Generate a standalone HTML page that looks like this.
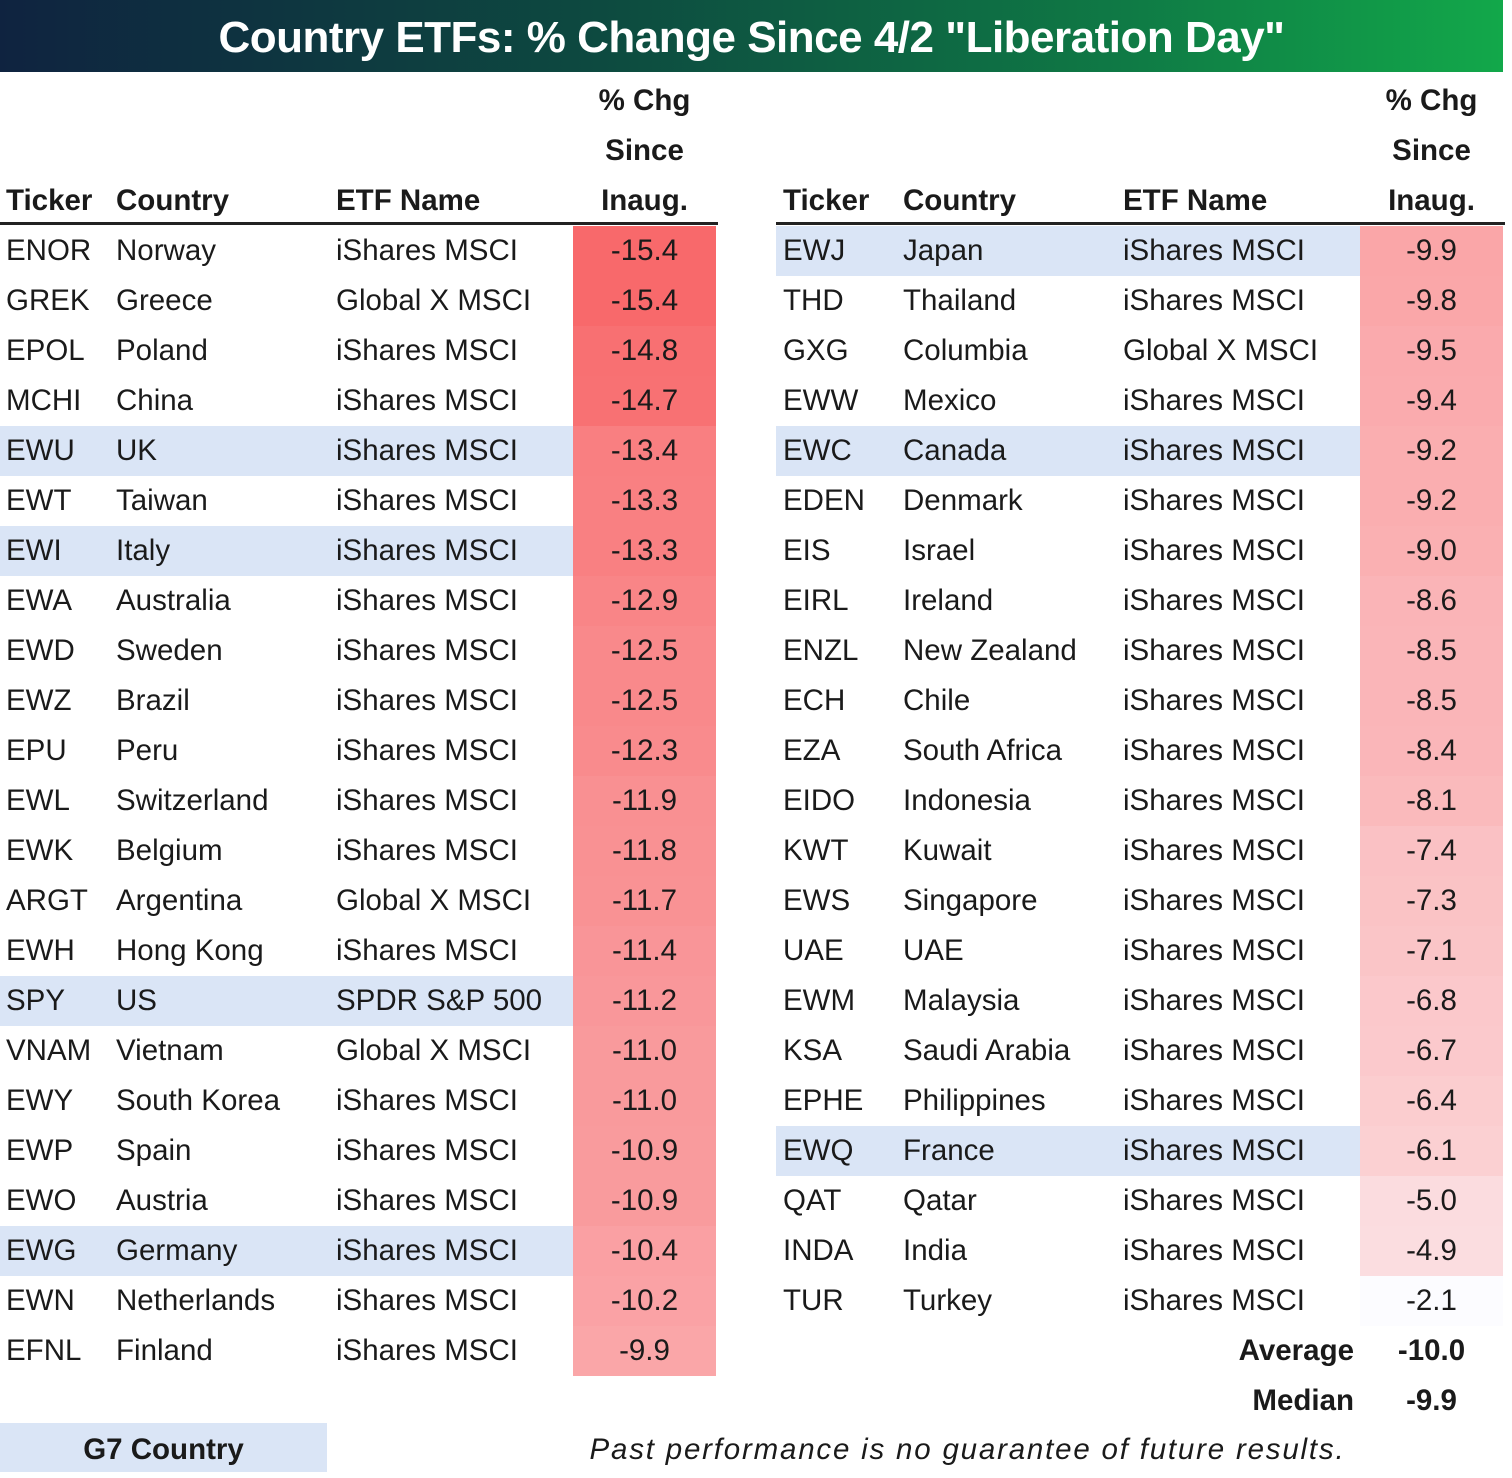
<!DOCTYPE html>
<html><head><meta charset="utf-8"><style>
*{margin:0;padding:0;box-sizing:border-box}
body{width:1512px;height:1478px;background:#fff;position:relative;overflow:hidden;font-family:"Liberation Sans",sans-serif;color:#1a1a1a;font-size:29.5px}
.t{position:absolute;left:0;top:0;width:1503px;height:72px;background:linear-gradient(90deg,#0f2340 0%,#0d4a40 40%,#0f7a45 75%,#12a84a 100%);color:#fff;font-weight:bold;font-size:44px;text-align:center;line-height:76px;letter-spacing:-0.5px}
.r{position:absolute;height:50px;line-height:50px;white-space:nowrap}
.a{position:absolute;top:0;height:50px}
.b{font-weight:bold}
.v{position:absolute;top:0;height:50px;text-align:center}
.hl{position:absolute;height:50px;background:#dae5f6}
.ln{position:absolute;top:222px;height:3px;background:#222}
</style></head><body>
<div class="t">Country ETFs: % Change Since 4/2 "Liberation Day"</div>

<div class="r b" style="top:76px;left:573px;width:143px;text-align:center">% Chg</div>
<div class="r b" style="top:126px;left:573px;width:143px;text-align:center">Since</div>
<div class="r b" style="top:176px;left:573px;width:143px;text-align:center">Inaug.</div>
<div class="r b" style="top:176px;left:6px">Ticker</div>
<div class="r b" style="top:176px;left:116px">Country</div>
<div class="r b" style="top:176px;left:336px">ETF Name</div>
<div class="ln" style="left:0;width:718px"></div>

<div class="r b" style="top:76px;left:1360px;width:143px;text-align:center">% Chg</div>
<div class="r b" style="top:126px;left:1360px;width:143px;text-align:center">Since</div>
<div class="r b" style="top:176px;left:1360px;width:143px;text-align:center">Inaug.</div>
<div class="r b" style="top:176px;left:783px">Ticker</div>
<div class="r b" style="top:176px;left:903px">Country</div>
<div class="r b" style="top:176px;left:1123px">ETF Name</div>
<div class="ln" style="left:776px;width:729px"></div>

<div class="hl" style="left:0;width:573px;top:426px"></div>
<div class="hl" style="left:0;width:573px;top:526px"></div>
<div class="hl" style="left:0;width:573px;top:976px"></div>
<div class="hl" style="left:0;width:573px;top:1226px"></div>
<div class="hl" style="left:776px;width:584px;top:226px"></div>
<div class="hl" style="left:776px;width:584px;top:426px"></div>
<div class="hl" style="left:776px;width:584px;top:1126px"></div>

<div style="position:absolute;left:573px;width:143px;top:226px">
<div style="height:50px;background:rgb(248,105,107)"></div>
<div style="height:50px;background:rgb(248,105,107)"></div>
<div style="height:50px;background:rgb(248,112,114)"></div>
<div style="height:50px;background:rgb(248,113,115)"></div>
<div style="height:50px;background:rgb(249,127,129)"></div>
<div style="height:50px;background:rgb(249,128,130)"></div>
<div style="height:50px;background:rgb(249,128,130)"></div>
<div style="height:50px;background:rgb(249,133,135)"></div>
<div style="height:50px;background:rgb(249,137,139)"></div>
<div style="height:50px;background:rgb(249,137,139)"></div>
<div style="height:50px;background:rgb(249,139,141)"></div>
<div style="height:50px;background:rgb(249,144,146)"></div>
<div style="height:50px;background:rgb(249,145,147)"></div>
<div style="height:50px;background:rgb(249,146,148)"></div>
<div style="height:50px;background:rgb(249,149,152)"></div>
<div style="height:50px;background:rgb(249,151,154)"></div>
<div style="height:50px;background:rgb(249,154,156)"></div>
<div style="height:50px;background:rgb(249,154,156)"></div>
<div style="height:50px;background:rgb(249,155,157)"></div>
<div style="height:50px;background:rgb(249,155,157)"></div>
<div style="height:50px;background:rgb(250,160,163)"></div>
<div style="height:50px;background:rgb(250,162,165)"></div>
<div style="height:50px;background:rgb(250,166,168)"></div>
</div>
<div style="position:absolute;left:1360px;width:143px;top:226px">
<div style="height:50px;background:rgb(250,166,168)"></div>
<div style="height:50px;background:rgb(250,167,169)"></div>
<div style="height:50px;background:rgb(250,170,173)"></div>
<div style="height:50px;background:rgb(250,171,174)"></div>
<div style="height:50px;background:rgb(250,174,176)"></div>
<div style="height:50px;background:rgb(250,174,176)"></div>
<div style="height:50px;background:rgb(250,176,178)"></div>
<div style="height:50px;background:rgb(250,180,183)"></div>
<div style="height:50px;background:rgb(250,181,184)"></div>
<div style="height:50px;background:rgb(250,181,184)"></div>
<div style="height:50px;background:rgb(250,182,185)"></div>
<div style="height:50px;background:rgb(250,186,188)"></div>
<div style="height:50px;background:rgb(250,193,196)"></div>
<div style="height:50px;background:rgb(250,195,197)"></div>
<div style="height:50px;background:rgb(250,197,199)"></div>
<div style="height:50px;background:rgb(251,200,203)"></div>
<div style="height:50px;background:rgb(251,201,204)"></div>
<div style="height:50px;background:rgb(251,205,207)"></div>
<div style="height:50px;background:rgb(251,208,210)"></div>
<div style="height:50px;background:rgb(251,220,223)"></div>
<div style="height:50px;background:rgb(251,221,224)"></div>
<div style="height:50px;background:rgb(252,252,255)"></div>
</div>

<div class="r" style="top:226px;left:0;width:720px"><span class="a" style="left:6px">ENOR</span><span class="a" style="left:116px">Norway</span><span class="a" style="left:336px">iShares MSCI</span><span class="v" style="left:573px;width:143px">-15.4</span></div>
<div class="r" style="top:276px;left:0;width:720px"><span class="a" style="left:6px">GREK</span><span class="a" style="left:116px">Greece</span><span class="a" style="left:336px">Global X MSCI</span><span class="v" style="left:573px;width:143px">-15.4</span></div>
<div class="r" style="top:326px;left:0;width:720px"><span class="a" style="left:6px">EPOL</span><span class="a" style="left:116px">Poland</span><span class="a" style="left:336px">iShares MSCI</span><span class="v" style="left:573px;width:143px">-14.8</span></div>
<div class="r" style="top:376px;left:0;width:720px"><span class="a" style="left:6px">MCHI</span><span class="a" style="left:116px">China</span><span class="a" style="left:336px">iShares MSCI</span><span class="v" style="left:573px;width:143px">-14.7</span></div>
<div class="r" style="top:426px;left:0;width:720px"><span class="a" style="left:6px">EWU</span><span class="a" style="left:116px">UK</span><span class="a" style="left:336px">iShares MSCI</span><span class="v" style="left:573px;width:143px">-13.4</span></div>
<div class="r" style="top:476px;left:0;width:720px"><span class="a" style="left:6px">EWT</span><span class="a" style="left:116px">Taiwan</span><span class="a" style="left:336px">iShares MSCI</span><span class="v" style="left:573px;width:143px">-13.3</span></div>
<div class="r" style="top:526px;left:0;width:720px"><span class="a" style="left:6px">EWI</span><span class="a" style="left:116px">Italy</span><span class="a" style="left:336px">iShares MSCI</span><span class="v" style="left:573px;width:143px">-13.3</span></div>
<div class="r" style="top:576px;left:0;width:720px"><span class="a" style="left:6px">EWA</span><span class="a" style="left:116px">Australia</span><span class="a" style="left:336px">iShares MSCI</span><span class="v" style="left:573px;width:143px">-12.9</span></div>
<div class="r" style="top:626px;left:0;width:720px"><span class="a" style="left:6px">EWD</span><span class="a" style="left:116px">Sweden</span><span class="a" style="left:336px">iShares MSCI</span><span class="v" style="left:573px;width:143px">-12.5</span></div>
<div class="r" style="top:676px;left:0;width:720px"><span class="a" style="left:6px">EWZ</span><span class="a" style="left:116px">Brazil</span><span class="a" style="left:336px">iShares MSCI</span><span class="v" style="left:573px;width:143px">-12.5</span></div>
<div class="r" style="top:726px;left:0;width:720px"><span class="a" style="left:6px">EPU</span><span class="a" style="left:116px">Peru</span><span class="a" style="left:336px">iShares MSCI</span><span class="v" style="left:573px;width:143px">-12.3</span></div>
<div class="r" style="top:776px;left:0;width:720px"><span class="a" style="left:6px">EWL</span><span class="a" style="left:116px">Switzerland</span><span class="a" style="left:336px">iShares MSCI</span><span class="v" style="left:573px;width:143px">-11.9</span></div>
<div class="r" style="top:826px;left:0;width:720px"><span class="a" style="left:6px">EWK</span><span class="a" style="left:116px">Belgium</span><span class="a" style="left:336px">iShares MSCI</span><span class="v" style="left:573px;width:143px">-11.8</span></div>
<div class="r" style="top:876px;left:0;width:720px"><span class="a" style="left:6px">ARGT</span><span class="a" style="left:116px">Argentina</span><span class="a" style="left:336px">Global X MSCI</span><span class="v" style="left:573px;width:143px">-11.7</span></div>
<div class="r" style="top:926px;left:0;width:720px"><span class="a" style="left:6px">EWH</span><span class="a" style="left:116px">Hong Kong</span><span class="a" style="left:336px">iShares MSCI</span><span class="v" style="left:573px;width:143px">-11.4</span></div>
<div class="r" style="top:976px;left:0;width:720px"><span class="a" style="left:6px">SPY</span><span class="a" style="left:116px">US</span><span class="a" style="left:336px">SPDR S&amp;P 500</span><span class="v" style="left:573px;width:143px">-11.2</span></div>
<div class="r" style="top:1026px;left:0;width:720px"><span class="a" style="left:6px">VNAM</span><span class="a" style="left:116px">Vietnam</span><span class="a" style="left:336px">Global X MSCI</span><span class="v" style="left:573px;width:143px">-11.0</span></div>
<div class="r" style="top:1076px;left:0;width:720px"><span class="a" style="left:6px">EWY</span><span class="a" style="left:116px">South Korea</span><span class="a" style="left:336px">iShares MSCI</span><span class="v" style="left:573px;width:143px">-11.0</span></div>
<div class="r" style="top:1126px;left:0;width:720px"><span class="a" style="left:6px">EWP</span><span class="a" style="left:116px">Spain</span><span class="a" style="left:336px">iShares MSCI</span><span class="v" style="left:573px;width:143px">-10.9</span></div>
<div class="r" style="top:1176px;left:0;width:720px"><span class="a" style="left:6px">EWO</span><span class="a" style="left:116px">Austria</span><span class="a" style="left:336px">iShares MSCI</span><span class="v" style="left:573px;width:143px">-10.9</span></div>
<div class="r" style="top:1226px;left:0;width:720px"><span class="a" style="left:6px">EWG</span><span class="a" style="left:116px">Germany</span><span class="a" style="left:336px">iShares MSCI</span><span class="v" style="left:573px;width:143px">-10.4</span></div>
<div class="r" style="top:1276px;left:0;width:720px"><span class="a" style="left:6px">EWN</span><span class="a" style="left:116px">Netherlands</span><span class="a" style="left:336px">iShares MSCI</span><span class="v" style="left:573px;width:143px">-10.2</span></div>
<div class="r" style="top:1326px;left:0;width:720px"><span class="a" style="left:6px">EFNL</span><span class="a" style="left:116px">Finland</span><span class="a" style="left:336px">iShares MSCI</span><span class="v" style="left:573px;width:143px">-9.9</span></div>

<div class="r" style="top:226px;left:777px;width:730px"><span class="a" style="left:6px">EWJ</span><span class="a" style="left:126px">Japan</span><span class="a" style="left:346px">iShares MSCI</span><span class="v" style="left:583px;width:143px">-9.9</span></div>
<div class="r" style="top:276px;left:777px;width:730px"><span class="a" style="left:6px">THD</span><span class="a" style="left:126px">Thailand</span><span class="a" style="left:346px">iShares MSCI</span><span class="v" style="left:583px;width:143px">-9.8</span></div>
<div class="r" style="top:326px;left:777px;width:730px"><span class="a" style="left:6px">GXG</span><span class="a" style="left:126px">Columbia</span><span class="a" style="left:346px">Global X MSCI</span><span class="v" style="left:583px;width:143px">-9.5</span></div>
<div class="r" style="top:376px;left:777px;width:730px"><span class="a" style="left:6px">EWW</span><span class="a" style="left:126px">Mexico</span><span class="a" style="left:346px">iShares MSCI</span><span class="v" style="left:583px;width:143px">-9.4</span></div>
<div class="r" style="top:426px;left:777px;width:730px"><span class="a" style="left:6px">EWC</span><span class="a" style="left:126px">Canada</span><span class="a" style="left:346px">iShares MSCI</span><span class="v" style="left:583px;width:143px">-9.2</span></div>
<div class="r" style="top:476px;left:777px;width:730px"><span class="a" style="left:6px">EDEN</span><span class="a" style="left:126px">Denmark</span><span class="a" style="left:346px">iShares MSCI</span><span class="v" style="left:583px;width:143px">-9.2</span></div>
<div class="r" style="top:526px;left:777px;width:730px"><span class="a" style="left:6px">EIS</span><span class="a" style="left:126px">Israel</span><span class="a" style="left:346px">iShares MSCI</span><span class="v" style="left:583px;width:143px">-9.0</span></div>
<div class="r" style="top:576px;left:777px;width:730px"><span class="a" style="left:6px">EIRL</span><span class="a" style="left:126px">Ireland</span><span class="a" style="left:346px">iShares MSCI</span><span class="v" style="left:583px;width:143px">-8.6</span></div>
<div class="r" style="top:626px;left:777px;width:730px"><span class="a" style="left:6px">ENZL</span><span class="a" style="left:126px">New Zealand</span><span class="a" style="left:346px">iShares MSCI</span><span class="v" style="left:583px;width:143px">-8.5</span></div>
<div class="r" style="top:676px;left:777px;width:730px"><span class="a" style="left:6px">ECH</span><span class="a" style="left:126px">Chile</span><span class="a" style="left:346px">iShares MSCI</span><span class="v" style="left:583px;width:143px">-8.5</span></div>
<div class="r" style="top:726px;left:777px;width:730px"><span class="a" style="left:6px">EZA</span><span class="a" style="left:126px">South Africa</span><span class="a" style="left:346px">iShares MSCI</span><span class="v" style="left:583px;width:143px">-8.4</span></div>
<div class="r" style="top:776px;left:777px;width:730px"><span class="a" style="left:6px">EIDO</span><span class="a" style="left:126px">Indonesia</span><span class="a" style="left:346px">iShares MSCI</span><span class="v" style="left:583px;width:143px">-8.1</span></div>
<div class="r" style="top:826px;left:777px;width:730px"><span class="a" style="left:6px">KWT</span><span class="a" style="left:126px">Kuwait</span><span class="a" style="left:346px">iShares MSCI</span><span class="v" style="left:583px;width:143px">-7.4</span></div>
<div class="r" style="top:876px;left:777px;width:730px"><span class="a" style="left:6px">EWS</span><span class="a" style="left:126px">Singapore</span><span class="a" style="left:346px">iShares MSCI</span><span class="v" style="left:583px;width:143px">-7.3</span></div>
<div class="r" style="top:926px;left:777px;width:730px"><span class="a" style="left:6px">UAE</span><span class="a" style="left:126px">UAE</span><span class="a" style="left:346px">iShares MSCI</span><span class="v" style="left:583px;width:143px">-7.1</span></div>
<div class="r" style="top:976px;left:777px;width:730px"><span class="a" style="left:6px">EWM</span><span class="a" style="left:126px">Malaysia</span><span class="a" style="left:346px">iShares MSCI</span><span class="v" style="left:583px;width:143px">-6.8</span></div>
<div class="r" style="top:1026px;left:777px;width:730px"><span class="a" style="left:6px">KSA</span><span class="a" style="left:126px">Saudi Arabia</span><span class="a" style="left:346px">iShares MSCI</span><span class="v" style="left:583px;width:143px">-6.7</span></div>
<div class="r" style="top:1076px;left:777px;width:730px"><span class="a" style="left:6px">EPHE</span><span class="a" style="left:126px">Philippines</span><span class="a" style="left:346px">iShares MSCI</span><span class="v" style="left:583px;width:143px">-6.4</span></div>
<div class="r" style="top:1126px;left:777px;width:730px"><span class="a" style="left:6px">EWQ</span><span class="a" style="left:126px">France</span><span class="a" style="left:346px">iShares MSCI</span><span class="v" style="left:583px;width:143px">-6.1</span></div>
<div class="r" style="top:1176px;left:777px;width:730px"><span class="a" style="left:6px">QAT</span><span class="a" style="left:126px">Qatar</span><span class="a" style="left:346px">iShares MSCI</span><span class="v" style="left:583px;width:143px">-5.0</span></div>
<div class="r" style="top:1226px;left:777px;width:730px"><span class="a" style="left:6px">INDA</span><span class="a" style="left:126px">India</span><span class="a" style="left:346px">iShares MSCI</span><span class="v" style="left:583px;width:143px">-4.9</span></div>
<div class="r" style="top:1276px;left:777px;width:730px"><span class="a" style="left:6px">TUR</span><span class="a" style="left:126px">Turkey</span><span class="a" style="left:346px">iShares MSCI</span><span class="v" style="left:583px;width:143px">-2.1</span></div>

<div class="r b" style="top:1326px;left:1100px;width:254px;text-align:right">Average</div>
<div class="r b" style="top:1326px;left:1360px;width:143px;text-align:center">-10.0</div>
<div class="r b" style="top:1376px;left:1100px;width:254px;text-align:right">Median</div>
<div class="r b" style="top:1376px;left:1360px;width:143px;text-align:center">-9.9</div>

<div class="r b" style="top:1423px;left:0;width:327px;height:49px;background:#dae5f6;text-align:center;line-height:54px">G7 Country</div>
<div class="r" style="top:1425px;left:560px;width:815px;text-align:center;font-style:italic;letter-spacing:1.8px">Past performance is no guarantee of future results.</div>
</body></html>
